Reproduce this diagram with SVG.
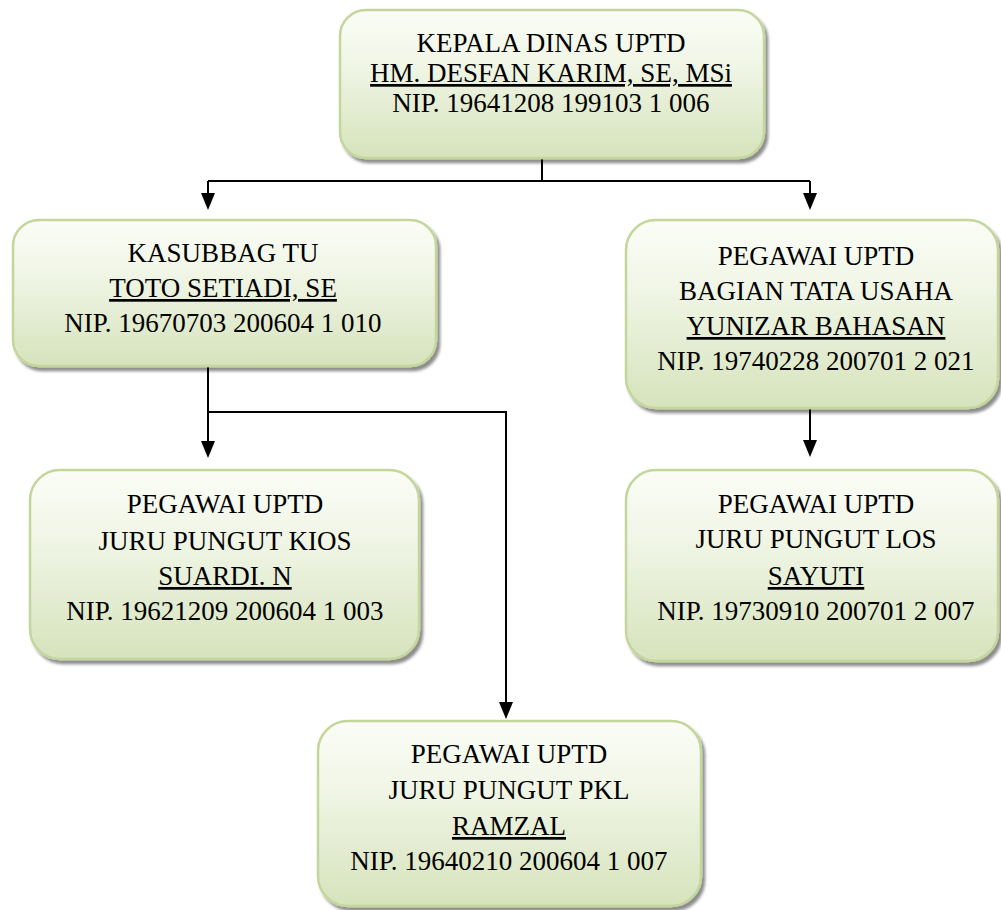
<svg xmlns="http://www.w3.org/2000/svg" width="1001" height="910" viewBox="0 0 1001 910">
<defs>
<linearGradient id="g" x1="0" y1="0" x2="0" y2="1">
<stop offset="0" stop-color="#fbfdf6"/>
<stop offset="0.35" stop-color="#f1f6e7"/>
<stop offset="1" stop-color="#d6e3bc"/>
</linearGradient>
<filter id="sh" x="-5%" y="-5%" width="115%" height="120%">
<feGaussianBlur in="SourceAlpha" stdDeviation="1.5"/>
<feOffset dx="3" dy="4" result="b"/>
<feComponentTransfer><feFuncA type="linear" slope="0.45"/></feComponentTransfer>
<feMerge><feMergeNode/><feMergeNode in="SourceGraphic"/></feMerge>
</filter>
</defs>
<style>
.box{fill:url(#g);stroke:#c3d69b;stroke-width:2.5;filter:url(#sh)}
.t{font-family:'Times New Roman','Liberation Serif',Tinos,serif;font-size:27px;fill:#000;text-anchor:middle}
.u{text-decoration:underline}
.c{fill:none;stroke:#000;stroke-width:2}
</style>
<g id="connectors">
<polyline class="c" points="542,158 542,181"/>
<polyline class="c" points="208,181 810,181"/>
<line class="c" x1="208" y1="181" x2="208" y2="193"/>
<path d="M201,193 L215,193 L208,210 Z"/>
<line class="c" x1="810" y1="181" x2="810" y2="193"/>
<path d="M803,193 L817,193 L810,210 Z"/>
<line class="c" x1="208" y1="366" x2="208" y2="441"/>
<path d="M201,441 L215,441 L208,458 Z"/>
<polyline class="c" points="208,412 506,412 506,702"/>
<path d="M499,702 L513,702 L506,719 Z"/>
<line class="c" x1="810" y1="408" x2="810" y2="440"/>
<path d="M803,440 L817,440 L810,457 Z"/>
</g>
<g id="kepala">
<rect class="box" x="340" y="10" width="424" height="148" rx="26"/>
<text class="t" x="551" y="52">KEPALA DINAS UPTD</text>
<text class="t u" x="551" y="82">HM. DESFAN KARIM, SE, MSi</text>
<text class="t" x="551" y="112">NIP. 19641208 199103 1 006</text>
</g>
<g id="kasubbag">
<rect class="box" x="13" y="220" width="423" height="146" rx="26"/>
<text class="t" x="223" y="262">KASUBBAG TU</text>
<text class="t u" x="223" y="297">TOTO SETIADI, SE</text>
<text class="t" x="223" y="332">NIP. 19670703 200604 1 010</text>
</g>
<g id="tatausaha">
<rect class="box" x="626" y="220" width="372" height="188" rx="30"/>
<text class="t" x="816" y="265">PEGAWAI UPTD</text>
<text class="t" x="816" y="300">BAGIAN TATA USAHA</text>
<text class="t u" x="816" y="335">YUNIZAR BAHASAN</text>
<text class="t" x="816" y="370">NIP. 19740228 200701 2 021</text>
</g>
<g id="kios">
<rect class="box" x="30" y="470" width="389" height="189" rx="30"/>
<text class="t" x="225" y="513">PEGAWAI UPTD</text>
<text class="t" x="225" y="550">JURU PUNGUT KIOS</text>
<text class="t u" x="225" y="585">SUARDI. N</text>
<text class="t" x="225" y="620">NIP. 19621209 200604 1 003</text>
</g>
<g id="los">
<rect class="box" x="626" y="470" width="372" height="191" rx="30"/>
<text class="t" x="816" y="513">PEGAWAI UPTD</text>
<text class="t" x="816" y="548">JURU PUNGUT LOS</text>
<text class="t u" x="816" y="585">SAYUTI</text>
<text class="t" x="816" y="620">NIP. 19730910 200701 2 007</text>
</g>
<g id="pkl">
<rect class="box" x="318" y="721" width="383" height="185" rx="30"/>
<text class="t" x="509" y="763">PEGAWAI UPTD</text>
<text class="t" x="509" y="799">JURU PUNGUT PKL</text>
<text class="t u" x="509" y="835">RAMZAL</text>
<text class="t" x="509" y="870">NIP. 19640210 200604 1 007</text>
</g>
</svg>
